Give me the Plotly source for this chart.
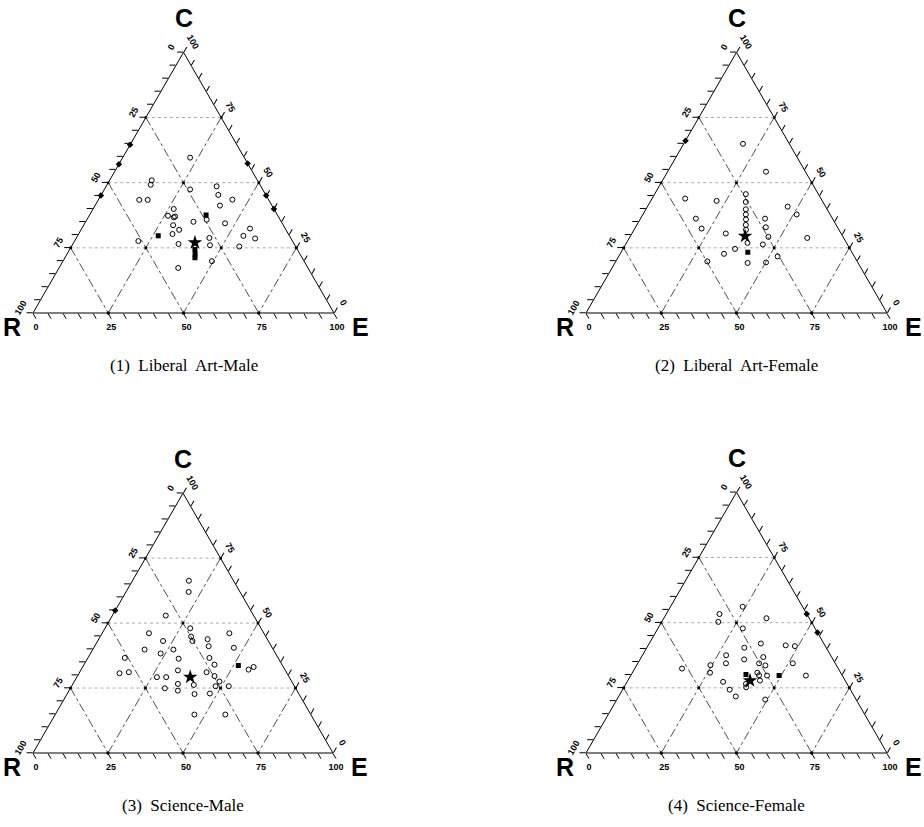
import math
import plotly.graph_objects as go

# ---------------------------------------------------------------
# Scores per respondent: C (top vertex) and E (right vertex), in %.
# R is the remainder, filled in by Plotly through `sum=100`.
# ---------------------------------------------------------------

# (1) Liberal Art-Male
la_m_open_C = [59.6, 50.9, 49.2, 47.4, 48.6, 45.3, 43.5, 41.2, 43.4, 43.4,
               39.9, 37.3, 36.7, 35.8, 35.0, 34.4, 33.7, 31.9, 30.3, 26.5,
               28.8, 26.0, 32.4, 29.6, 28.6, 25.5, 27.6, 17.3, 19.9, 37.0]
la_m_open_E = [22.4, 14.0, 14.5, 28.5, 36.7, 38.9, 44.5, 41.5, 13.6, 16.4,
               26.8, 26.2, 28.4, 39.8, 35.8, 46.6, 29.7, 32.6, 31.2, 35.1,
               44.2, 45.8, 55.9, 55.1, 59.5, 55.8, 21.2, 39.6, 49.5, 28.7]
la_m_fill_C = [37.6, 29.6, 24.4, 22.5, 21.2]
la_m_fill_E = [38.7, 26.8, 41.6, 42.6, 43.2]
la_m_star_C = [27.0]
la_m_star_E = [40.3]
la_m_edge_C = [64.5, 57.1, 45.1, 57.4, 45.1, 39.9]
la_m_edge_E = [0.0, 0.0, 0.0, 42.6, 54.9, 60.1]

# (2) Liberal Art-Female
la_f_open_C = [64.9, 54.2, 43.9, 43.0, 45.6, 42.6, 39.8, 37.8, 35.9, 33.8,
               31.9, 26.9, 19.2, 36.2, 32.4, 30.5, 24.6, 22.7, 19.8, 36.2,
               32.9, 29.2, 26.3, 21.7, 19.4, 40.8, 37.8, 28.8]
la_f_open_E = [19.7, 32.7, 11.0, 21.9, 30.3, 31.8, 33.2, 34.2, 35.2, 36.2,
               37.2, 40.2, 44.1, 18.4, 22.2, 31.2, 37.2, 34.5, 30.4, 41.4,
               43.3, 46.0, 45.6, 52.8, 50.1, 46.6, 51.1, 59.1]
la_f_fill_C = [23.3]
la_f_fill_E = [42.1]
la_f_star_C = [29.5]
la_f_star_E = [38.1]
la_f_edge_C = [66.1]
la_f_edge_E = [0.0]

# (3) Science-Male
sc_m_open_C = [66.3, 62.0, 52.9, 46.1, 43.1, 39.8, 38.3, 39.8, 36.3, 36.6,
               30.7, 31.1, 29.2, 29.2, 31.8, 48.0, 44.8, 43.1, 43.8, 41.1,
               46.1, 40.5, 36.6, 34.0, 32.1, 33.1, 26.6, 24.0, 26.2, 22.7,
               31.1, 29.6, 25.7, 27.5, 25.7, 22.9, 24.9, 14.8, 14.8]
sc_m_open_E = [18.8, 20.9, 17.8, 15.6, 21.8, 17.3, 23.4, 26.9, 30.4, 12.3,
               13.5, 16.4, 26.7, 29.8, 32.4, 28.4, 30.3, 31.6, 36.3, 38.0,
               42.4, 46.7, 40.5, 43.5, 55.8, 57.0, 35.0, 36.3, 40.5, 42.5,
               42.3, 45.7, 48.0, 48.4, 52.4, 47.5, 31.5, 46.4, 56.7]
sc_m_fill_C = [33.7]
sc_m_fill_E = [51.6]
sc_m_star_C = [29.2]
sc_m_star_E = [37.8]
sc_m_edge_C = [54.8]
sc_m_edge_E = [0.0]

# (4) Science-Female
sc_f_open_C = [56.1, 53.3, 50.3, 51.7, 47.8, 41.3, 41.0, 42.0, 40.4, 37.5,
               34.4, 35.9, 36.8, 34.4, 33.6, 34.4, 33.7, 32.4, 30.8, 30.8,
               29.8, 29.7, 26.5, 25.2, 27.8, 27.3, 24.3, 21.7, 29.7, 20.5]
sc_f_open_E = [24.0, 17.7, 18.8, 34.1, 28.2, 45.7, 48.9, 37.1, 32.4, 27.8,
               29.3, 34.6, 40.5, 40.3, 42.8, 51.5, 24.5, 15.7, 25.8, 41.5,
               42.6, 45.3, 39.9, 40.6, 43.9, 31.9, 35.6, 38.9, 58.2, 49.3]
sc_f_fill_C = [30.1, 29.7]
sc_f_fill_E = [38.1, 49.3]
sc_f_star_C = [27.8]
sc_f_star_E = [40.6]
sc_f_edge_C = [53.3, 46.2]
sc_f_edge_E = [46.7, 53.8]

captions = ["(1)  Liberal  Art-Male", "(2)  Liberal  Art-Female",
            "(3)  Science-Male", "(4)  Science-Female"]
grid_levels = [25, 50, 75]
tick_values = list(range(0, 101, 5))
tick_texts = [str(100 - v) if v % 25 == 0 else "" for v in tick_values]

panels = [
    (la_m_open_C, la_m_open_E, la_m_fill_C, la_m_fill_E, la_m_star_C, la_m_star_E, la_m_edge_C, la_m_edge_E),
    (la_f_open_C, la_f_open_E, la_f_fill_C, la_f_fill_E, la_f_star_C, la_f_star_E, la_f_edge_C, la_f_edge_E),
    (sc_m_open_C, sc_m_open_E, sc_m_fill_C, sc_m_fill_E, sc_m_star_C, sc_m_star_E, sc_m_edge_C, sc_m_edge_E),
    (sc_f_open_C, sc_f_open_E, sc_f_fill_C, sc_f_fill_E, sc_f_star_C, sc_f_star_E, sc_f_edge_C, sc_f_edge_E),
]

# page layout (pixels): left corner x, right corner x, baseline y
W, H = 924, 827
frames = [(33, 334, 313), (586, 887, 313), (33, 333, 753), (586, 887, 753)]

fig = go.Figure()


def axis(angle):
    return dict(
        title=dict(text=""),
        min=0,
        tickmode="array",
        tickvals=tick_values,
        ticktext=tick_texts,
        ticks="outside",
        ticklen=6,
        tickwidth=1,
        tickcolor="black",
        tickangle=angle,
        tickfont=dict(family="Arial", size=9, color="black", weight="bold"),
        showline=True,
        linecolor="black",
        linewidth=1,
        showgrid=False,
        layer="above traces",
    )


for i, (frame, data) in enumerate(zip(frames, panels)):
    sub = "ternary" if i == 0 else f"ternary{i + 1}"
    x0, x1, yb = frame
    side = x1 - x0
    tri_h = side * math.sqrt(3) / 2
    fig.update_layout({sub: dict(
        sum=100,
        bgcolor="white",
        domain=dict(x=[x0 / W, x1 / W], y=[(H - yb) / H, (H - yb + tri_h) / H]),
        aaxis=axis(-60),
        baxis=axis(0),
        caxis=axis(60),
    )})

    common = dict(subplot=sub, showlegend=False, hoverinfo="skip")
    endpoint = dict(symbol="circle", size=3, color="black")

    # reference lines: constant R and constant E dash-dot, constant C dotted
    for k in grid_levels:
        fig.add_trace(go.Scatterternary(a=[100 - k, 0], b=[k, k], c=[0, 100 - k], mode="lines+markers",
                                        marker=endpoint, cliponaxis=False,
                                        line=dict(color="#222", width=0.8, dash="dashdot"), **common))
        fig.add_trace(go.Scatterternary(a=[100 - k, 0], b=[0, 100 - k], c=[k, k], mode="lines+markers",
                                        marker=endpoint, cliponaxis=False,
                                        line=dict(color="#222", width=0.8, dash="dashdot"), **common))
        fig.add_trace(go.Scatterternary(a=[k, k], b=[100 - k, 0], c=[0, 100 - k], mode="lines",
                                        line=dict(color="#aaa", width=1, dash="dot"), **common))
    fig.add_trace(go.Scatterternary(a=[50, 25, 25], b=[25, 50, 25], c=[25, 25, 50], mode="markers",
                                    marker=endpoint, **common))

    open_C, open_E, fill_C, fill_E, star_C, star_E, edge_C, edge_E = data
    fig.add_trace(go.Scatterternary(a=open_C, c=open_E, sum=100, mode="markers",
                                    marker=dict(symbol="circle-open", size=5, color="black",
                                                line=dict(width=1, color="black")), **common))
    fig.add_trace(go.Scatterternary(a=fill_C, c=fill_E, sum=100, mode="markers",
                                    marker=dict(symbol="square", size=5, color="black"), **common))
    fig.add_trace(go.Scatterternary(a=edge_C, c=edge_E, sum=100, mode="markers", cliponaxis=False,
                                    marker=dict(symbol="diamond", size=5, color="black"), **common))
    fig.add_trace(go.Scatterternary(a=star_C, c=star_E, sum=100, mode="markers",
                                    marker=dict(symbol="star", size=11, color="black"), **common))

    # vertex names and caption
    apex_y = yb - tri_h
    for text, px, py in [("C", (x0 + x1) / 2, apex_y - 34), ("R", x0 - 21, yb + 14), ("E", x1 + 26, yb + 14)]:
        fig.add_annotation(x=px / W, y=1 - py / H, xref="paper", yref="paper", text=f"<b>{text}</b>",
                           showarrow=False, font=dict(family="Arial", size=25, color="black"),
                           xanchor="center", yanchor="middle")
    fig.add_annotation(x=(x0 + x1) / 2 / W, y=1 - (yb + 52) / H, xref="paper", yref="paper",
                       text=captions[i].replace("  ", "&nbsp; "), showarrow=False,
                       font=dict(family="Liberation Serif", size=17, color="black"),
                       xanchor="center", yanchor="middle")

fig.update_layout(width=W, height=H, margin=dict(l=0, r=0, t=0, b=0),
                  paper_bgcolor="white", plot_bgcolor="white")
fig.write_html("out.html")
